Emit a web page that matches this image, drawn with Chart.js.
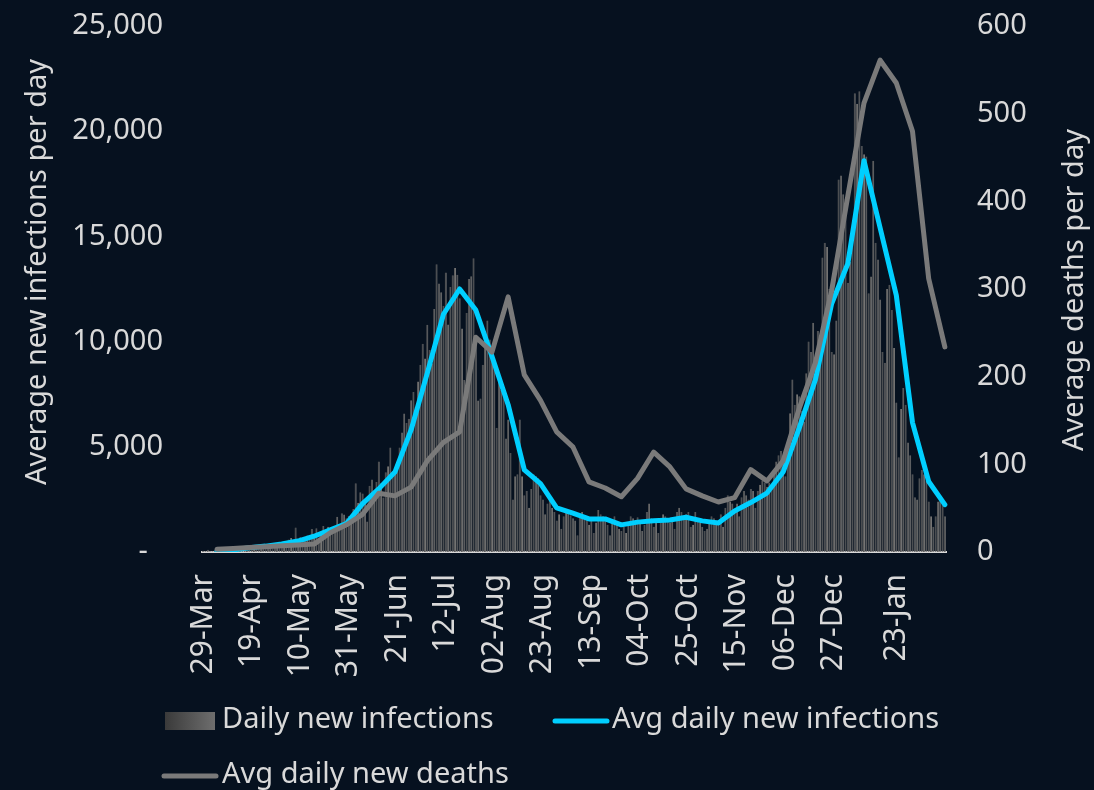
<!DOCTYPE html>
<html>
<head>
<meta charset="utf-8">
<title>Daily new infections and deaths</title>
<script src="https://cdn.jsdelivr.net/npm/chart.js@4.4.1/dist/chart.umd.min.js"></script>
<style>
  html, body { margin: 0; padding: 0; background: #06111f; }
  #wrap { width: 1094px; height: 790px; position: relative; }
</style>
</head>
<body>
<div id="wrap"><canvas id="chart"></canvas></div>
<script>
// ---- data ----
const tickLabels = ['29-Mar', '19-Apr', '10-May', '31-May', '21-Jun', '12-Jul', '02-Aug', '23-Aug',
  '13-Sep', '04-Oct', '25-Oct', '15-Nov', '06-Dec', '27-Dec', '23-Jan'];

// daily new infections, one value per day from 29-Mar
const dailyInfections = [
  60, 48, 110, 34, 40, 70, 73,
  96, 87, 52, 71, 69, 87, 178,
  143, 95, 123, 251, 178, 85, 184,
  138, 165, 318, 148, 197, 267, 247,
  343, 354, 167, 299, 424, 294, 450,
  437, 352, 595, 663, 421, 1160, 481,
  696, 580, 712, 783, 624, 1089, 830,
  1134, 680, 974, 1240, 1057, 1204, 1126,
  1110, 1130, 1674, 1160, 1837, 1778, 1605,
  1716, 1661, 2038, 3267, 2335, 2843, 2781,
  2312, 1455, 3153, 3442, 2657, 3327, 4302,
  3267, 2594, 3793, 4078, 4966, 3825, 3809,
  4288, 4966, 5674, 6579, 6130, 6334, 7210,
  7600, 6900, 8100, 8900, 9900, 9200, 10800,
  9600, 8970, 11554, 13674, 12757, 12348, 11700,
  13285, 10810, 12600, 13150, 13497, 13172, 12058,
  10621, 8170, 11362, 12980, 13104, 13956, 10107,
  7200, 7300, 8900, 10500, 11000, 10100, 9800,
  8900, 5900, 8200, 7700, 7600, 5400, 6300,
  4700, 2500, 3600, 3700, 6300, 3600, 2700,
  2900, 2100, 3000, 3700, 3600, 3500, 2700,
  2500, 1800, 2300, 2500, 2100, 1900, 1500,
  1800, 1100, 1700, 2000, 1950, 1750, 1600,
  1500, 800, 1800, 1900, 1600, 1700, 1300,
  1600, 900, 1400, 2000, 1800, 1700, 1500,
  1300, 800, 1500, 1700, 1350, 1100, 1000,
  1200, 900, 1400, 1700, 1600, 1500, 1650,
  1500, 1000, 1300, 1900, 2300, 1600, 1200,
  1400, 900, 1600, 1800, 1700, 1600, 1400,
  1500, 1100, 1900, 2100, 1900, 1700, 1800,
  1900, 1200, 1300, 1900, 1500, 1400, 1200,
  1000, 1100, 1500, 1700, 1600, 1500, 1300,
  1800, 1200, 2100, 2700, 2400, 2300, 2000,
  2300, 1700, 2600, 2900, 2700, 2500, 3000,
  2900, 2100, 2900, 3200, 3400, 3300, 3100,
  3300, 3000, 3900, 4300, 4600, 4800, 4400,
  3600, 4500, 6600, 8200, 7000, 7500, 7400,
  6700, 6200, 8500, 10000, 9500, 10900, 9000,
  10500, 9000, 14000, 14700, 14500, 12500, 9500,
  9400, 11000, 17700, 17900, 17000, 16800, 12800,
  13800, 15000, 21800, 21300, 21900, 19300, 18900,
  18800, 12300, 13100, 18600, 14700, 13900, 12000,
  9500, 9000, 12500, 12700, 11500, 9700, 7100,
  4500, 6800, 7800, 7000, 5200, 4600, 3700,
  2600, 2500, 3500, 3900, 3700, 3400, 2400,
  1700, 1200, 1700, 2400, 2500, 2300, 1700
];

// weekly averages, plotted on the last day of each week
const avgInfections = [
  50, 100, 200, 280, 380, 520, 750, 1050, 1350, 2300,
  3000, 3800, 5800, 8500, 11300, 12500, 11500, 9300, 7000, 3900,
  3250, 2100, 1850, 1570, 1570, 1290, 1420, 1480, 1520, 1650,
  1480, 1380, 1950, 2350, 2800, 3800, 5900, 8200, 11800, 13700,
  18600, 15400, 12200, 6150, 3350, 2250
];
const avgDeaths = [
  3, 4, 5, 6, 7, 8, 9, 22, 31, 43,
  67, 64, 74, 104, 125, 137, 245, 228, 291, 202,
  173, 137, 120, 80, 73, 63, 84, 114, 97, 72,
  64, 57, 62, 94, 81, 104, 164, 216, 298, 406,
  512, 561, 535, 480, 312, 234
];

const monthNames = ['Jan', 'Feb', 'Mar', 'Apr', 'May', 'Jun', 'Jul', 'Aug', 'Sep', 'Oct', 'Nov', 'Dec'];
const days = dailyInfections.map((_, i) => {
  const d = new Date(2020, 2, 29 + i);
  return String(d.getDate()).padStart(2, '0') + '-' + monthNames[d.getMonth()];
});

const textColor = '#d9d9d9';
const fontFam = "'Noto Sans', 'Open Sans', sans-serif";
Chart.defaults.font.family = fontFam;
Chart.defaults.font.size = 29;
Chart.defaults.color = textColor;

// legend + axis titles drawn by hand (Excel style layout)
const extras = {
  id: 'extras',
  afterDraw(chart) {
    const ctx = chart.ctx;
    ctx.save();
    ctx.font = '29px ' + fontFam;
    ctx.fillStyle = textColor;
    ctx.textBaseline = 'middle';
    ctx.textAlign = 'center';

    ctx.save();
    ctx.translate(38, 272);
    ctx.rotate(-Math.PI / 2);
    ctx.fillText('Average new infections per day', 0, 0);
    ctx.restore();

    ctx.save();
    ctx.translate(1075, 290);
    ctx.rotate(-Math.PI / 2);
    ctx.fillText('Average deaths per day', 0, 0);
    ctx.restore();

    ctx.textAlign = 'left';
    let g = ctx.createLinearGradient(165, 0, 215, 0);
    g.addColorStop(0, '#3a3a3a');
    g.addColorStop(1, '#6e6e6e');
    ctx.fillStyle = g;
    ctx.fillRect(165, 712, 50, 18);
    ctx.fillStyle = textColor;
    ctx.fillText('Daily new infections', 222, 720);

    ctx.lineCap = 'round';
    ctx.lineWidth = 5;
    ctx.strokeStyle = '#00cfff';
    ctx.beginPath(); ctx.moveTo(555, 721); ctx.lineTo(607, 721); ctx.stroke();
    ctx.fillText('Avg daily new infections', 612, 720);

    ctx.strokeStyle = '#7a7a7a';
    ctx.beginPath(); ctx.moveTo(164, 776); ctx.lineTo(216, 776); ctx.stroke();
    ctx.fillText('Avg daily new deaths', 222, 775);
    ctx.restore();
  }
};

// vertical axes: fixed width, no extra top/bottom padding from the tick labels
function fixY(width) {
  return s => {
    s.width = width;
    s.paddingTop = 0;
    s.paddingBottom = 0;
  };
}

new Chart(document.getElementById('chart'), {
  type: 'bar',
  data: {
    labels: days,
    datasets: [
      {
        type: 'line',
        label: 'Avg daily new deaths',
        data: avgDeaths.map((v, k) => ({ x: days[6 + 7 * k], y: v })),
        yAxisID: 'y1',
        borderColor: '#7a7a7a',
        borderWidth: 5,
        pointRadius: 0,
        tension: 0,
        borderCapStyle: 'round',
        borderJoinStyle: 'round',
        order: 1
      },
      {
        type: 'line',
        label: 'Avg daily new infections',
        data: avgInfections.map((v, k) => ({ x: days[6 + 7 * k], y: v })),
        yAxisID: 'y',
        borderColor: '#00cfff',
        borderWidth: 5,
        pointRadius: 0,
        tension: 0,
        borderCapStyle: 'round',
        borderJoinStyle: 'round',
        order: 2
      },
      {
        label: 'Daily new infections',
        data: dailyInfections,
        yAxisID: 'y',
        backgroundColor: '#5d5d5d',
        borderColor: '#767676',
        borderWidth: { left: 0, right: 1, top: 0, bottom: 0 },
        borderSkipped: false,
        categoryPercentage: 1,
        barPercentage: 0.88,
        order: 3
      }
    ]
  },
  options: {
    responsive: true,
    maintainAspectRatio: false,
    animation: false,
    layout: { padding: { top: 26, right: 0, bottom: 98, left: 0 } },
    plugins: {
      legend: { display: false },
      tooltip: { enabled: false }
    },
    scales: {
      x: {
        grid: { display: false, drawTicks: false },
        border: { display: true, color: '#d9d9d9', width: 2 },
        ticks: {
          autoSkip: false,
          minRotation: 90,
          maxRotation: 90,
          padding: 22,
          font: { size: 30 },
          callback: function (value) {
            const lab = this.getLabelForValue(value);
            return tickLabels.includes(lab) ? lab : '';
          }
        },
        afterFit: s => { s.height = 140; }
      },
      y: {
        position: 'left',
        min: 0,
        max: 25000,
        grid: { display: false, drawTicks: false },
        border: { display: false },
        ticks: {
          stepSize: 5000,
          padding: 39,
          callback: v => v === 0 ? '-  ' : v.toLocaleString('en-US')
        },
        afterFit: fixY(202)
      },
      y1: {
        position: 'right',
        min: 0,
        max: 600,
        grid: { display: false, drawTicks: false },
        border: { display: false },
        ticks: { stepSize: 100, padding: 31 },
        afterFit: fixY(148)
      }
    }
  },
  plugins: [extras]
});
</script>
</body>
</html>
